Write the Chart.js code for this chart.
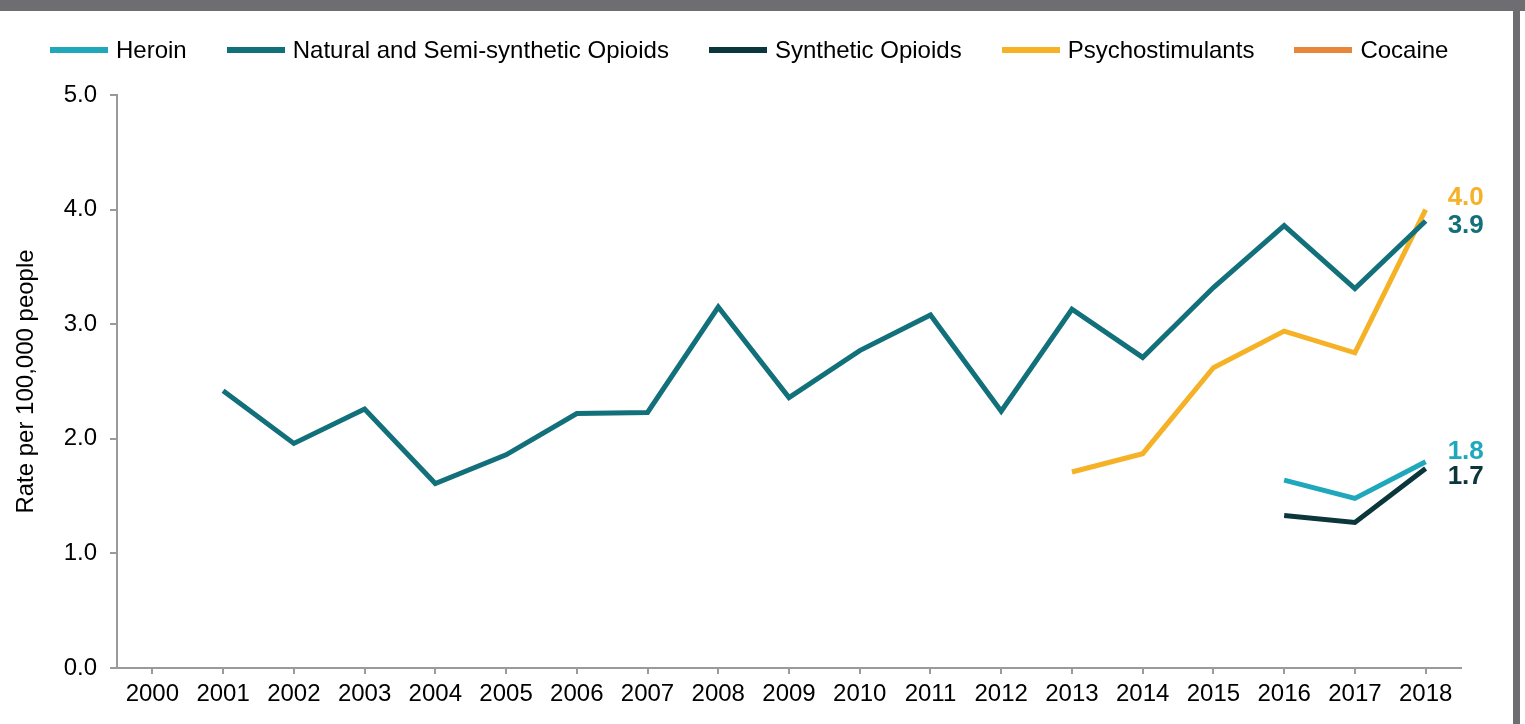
<!DOCTYPE html>
<html>
<head>
<meta charset="utf-8">
<script src="https://cdn.jsdelivr.net/npm/chart.js@4.4.0/dist/chart.umd.min.js"></script>
<style>
    body { margin: 0; background: #fff; font-family: "Liberation Sans", Arial, sans-serif; }
    #page { position: relative; width: 1525px; height: 724px; overflow: hidden; background: #fff; }
    .top-bar { position: absolute; left: 0; top: 0; width: 1525px; height: 11px; background: #6e6e72; }
    .side-bar { position: absolute; left: 1513px; top: 0; width: 7px; height: 724px; background: #6e6e72; }
    #chartWrap { position: absolute; left: 0; top: 11px; width: 1511px; height: 713px; }
    #legend { position: absolute; left: 50px; top: 36px; display: flex; align-items: center; font-size: 24px; line-height: 28px; color: #000; white-space: nowrap; }
    .legend-item { display: flex; align-items: center; margin-right: 40px; }
    .legend-line { width: 58px; height: 6px; margin-right: 8px; }
</style>
</head>
<body>
<div id="page">
    <div class="top-bar"></div>
    <div class="side-bar"></div>
    <div id="chartWrap"><canvas id="opioidChart" width="1511" height="713"></canvas></div>
    <div id="legend"></div>
</div>
<script>
// ---- data ----
const years = ['2000', '2001', '2002', '2003', '2004', '2005', '2006', '2007', '2008', '2009',
    '2010', '2011', '2012', '2013', '2014', '2015', '2016', '2017', '2018'];

const heroin = [null, null, null, null, null, null, null, null, null, null,
    null, null, null, null, null, null, 1.64, 1.48, 1.8];
const naturalSemi = [null, 2.42, 1.96, 2.26, 1.61, 1.86, 2.22, 2.23, 3.15, 2.36,
    2.77, 3.08, 2.24, 3.13, 2.71, 3.32, 3.86, 3.31, 3.9];
const synthetic = [null, null, null, null, null, null, null, null, null, null,
    null, null, null, null, null, null, 1.33, 1.27, 1.74];
const psychostimulants = [null, null, null, null, null, null, null, null, null, null,
    null, null, null, 1.71, 1.87, 2.62, 2.94, 2.75, 4.0];
const cocaine = [null, null, null, null, null, null, null, null, null, null,
    null, null, null, null, null, null, null, null, null];

const yTicks = [0, 1, 2, 3, 4, 5];

// end labels (shown values) and small vertical nudges so they don't overlap
const endLabels = { 'Heroin': '1.8', 'Natural and Semi-synthetic Opioids': '3.9', 'Synthetic Opioids': '1.7', 'Psychostimulants': '4.0' };
const endNudge = { 'Heroin': -10, 'Natural and Semi-synthetic Opioids': 5, 'Synthetic Opioids': 8, 'Psychostimulants': -12 };

const series = [
    { label: 'Heroin', data: heroin, color: '#1fa7bb' },
    { label: 'Natural and Semi-synthetic Opioids', data: naturalSemi, color: '#12707b' },
    { label: 'Synthetic Opioids', data: synthetic, color: '#0b363c' },
    { label: 'Psychostimulants', data: psychostimulants, color: '#f5b227' },
    { label: 'Cocaine', data: cocaine, color: '#e8873a' }
];

const fontFamily = '"Liberation Sans", Arial, sans-serif';

// legend
const legendEl = document.getElementById('legend');
series.forEach(s => {
    const item = document.createElement('div');
    item.className = 'legend-item';
    item.innerHTML = '<span class="legend-line" style="background:' + s.color + '"></span><span>' + s.label + '</span>';
    legendEl.appendChild(item);
});

// draws the last value next to each line's end point
const endLabelPlugin = {
    id: 'endLabels',
    afterDatasetsDraw(chart) {
        const ctx = chart.ctx;
        ctx.save();
        ctx.font = 'bold 26px ' + fontFamily;
        ctx.textBaseline = 'middle';
        ctx.textAlign = 'left';
        chart.data.datasets.forEach((ds, i) => {
            const txt = endLabels[ds.label];
            if (!txt) return;
            const meta = chart.getDatasetMeta(i);
            const pt = meta.data[meta.data.length - 1];
            ctx.fillStyle = ds.borderColor;
            ctx.fillText(txt, pt.x + 22, pt.y + endNudge[ds.label]);
        });
        ctx.restore();
    }
};

const ctx = document.getElementById('opioidChart').getContext('2d');
new Chart(ctx, {
    type: 'line',
    data: {
        labels: years,
        datasets: series.map(s => ({
            label: s.label,
            data: s.data,
            borderColor: s.color,
            backgroundColor: s.color,
            borderWidth: 5,
            pointRadius: 0,
            tension: 0,
            spanGaps: false
        }))
    },
    options: {
        responsive: false,
        animation: false,
        layout: {
            padding: { top: 84, right: 50, bottom: 0, left: 0 }
        },
        plugins: {
            legend: { display: false },
            tooltip: { enabled: false }
        },
        scales: {
            x: {
                offset: true,
                grid: {
                    offset: false,
                    drawOnChartArea: false,
                    tickLength: 6,
                    color: '#9a9a9a',
                    lineWidth: 2
                },
                border: { color: '#9a9a9a', width: 2 },
                ticks: {
                    color: '#000',
                    padding: 6,
                    maxRotation: 0,
                    autoSkip: false,
                    font: { family: fontFamily, size: 24 }
                },
                afterFit: function(scale) { scale.height = 56; }
            },
            y: {
                min: 0,
                max: 5,
                afterBuildTicks: function(scale) {
                    scale.ticks = yTicks.map(v => ({ value: v }));
                },
                grid: {
                    drawOnChartArea: false,
                    tickLength: 7,
                    color: '#9a9a9a',
                    lineWidth: 2
                },
                border: { color: '#9a9a9a', width: 2 },
                ticks: {
                    color: '#000',
                    padding: 13,
                    callback: function(value) { return value.toFixed(1); },
                    font: { family: fontFamily, size: 24 }
                },
                title: {
                    display: true,
                    text: 'Rate per 100,000 people',
                    color: '#000',
                    padding: { top: 12, bottom: 0 },
                    font: { family: fontFamily, size: 24 }
                },
                afterFit: function(scale) { scale.width = 117; }
            }
        }
    },
    plugins: [endLabelPlugin]
});
</script>
</body>
</html>
